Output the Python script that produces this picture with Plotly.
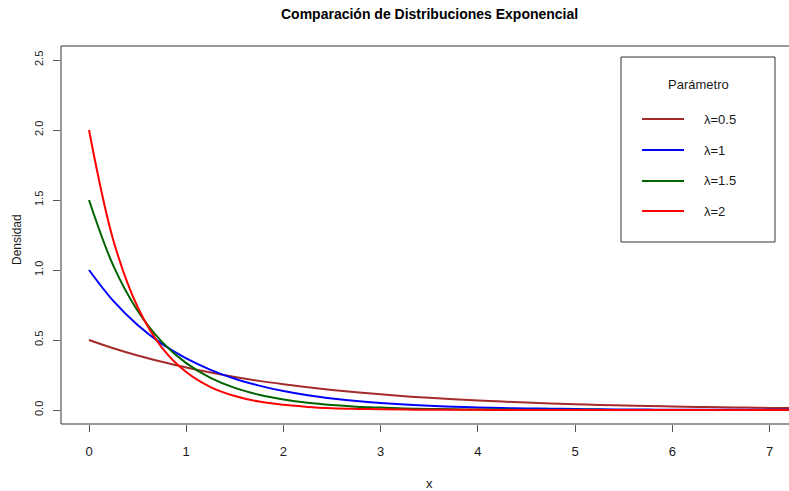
import plotly.graph_objects as go

# ---- data ----
x_vals = [0.00, 0.25, 0.50, 0.75, 1.00, 1.25, 1.50, 1.75, 2.00, 2.25, 2.50, 2.75,
          3.00, 3.25, 3.50, 3.75, 4.00, 4.25, 4.50, 4.75, 5.00, 5.25, 5.50, 5.75,
          6.00, 6.25, 6.50, 6.75, 7.00, 7.25]
dens_05 = [0.500, 0.441, 0.389, 0.344, 0.303, 0.268, 0.236, 0.208, 0.184, 0.162,
           0.143, 0.126, 0.112, 0.098, 0.087, 0.077, 0.068, 0.060, 0.053, 0.046,
           0.041, 0.036, 0.032, 0.028, 0.025, 0.022, 0.019, 0.017, 0.015, 0.013]
dens_1 = [1.000, 0.779, 0.607, 0.472, 0.368, 0.287, 0.223, 0.174, 0.135, 0.105,
          0.082, 0.064, 0.050, 0.039, 0.030, 0.024, 0.018, 0.014, 0.011, 0.009,
          0.007, 0.005, 0.004, 0.003, 0.002, 0.002, 0.002, 0.001, 0.001, 0.001]
dens_15 = [1.500, 1.031, 0.709, 0.487, 0.335, 0.230, 0.158, 0.109, 0.075, 0.051,
           0.035, 0.024, 0.017, 0.011, 0.008, 0.005, 0.004, 0.003, 0.002, 0.001,
           0.001, 0.001, 0.000, 0.000, 0.000, 0.000, 0.000, 0.000, 0.000, 0.000]
dens_2 = [2.000, 1.213, 0.736, 0.446, 0.271, 0.164, 0.100, 0.060, 0.037, 0.022,
          0.013, 0.008, 0.005, 0.003, 0.002, 0.001, 0.001, 0.000, 0.000, 0.000,
          0.000, 0.000, 0.000, 0.000, 0.000, 0.000, 0.000, 0.000, 0.000, 0.000]
series_names = ["λ=0.5", "λ=1", "λ=1.5", "λ=2"]
series_vals = [dens_05, dens_1, dens_15, dens_2]
series_colors = ["#A52A2A", "#0000FF", "#006400", "#FF0000"]
x_ticks = [0, 1, 2, 3, 4, 5, 6, 7]
y_ticks = [0.0, 0.5, 1.0, 1.5, 2.0, 2.5]
y_tick_text = ["0.0", "0.5", "1.0", "1.5", "2.0", "2.5"]

W, H = 789, 491
L, R, T, B = 61, 0, 46, 67
NARROW = "Liberation Sans Narrow, Liberation Sans, Arial, sans-serif"
REG = "Liberation Sans, Arial, sans-serif"
TXT = "#1a1a1a"


def px(xp):
    return (xp - L) / (W - L - R)


def py(yp):
    return (H - B - yp) / (H - T - B)


fig = go.Figure()
for name, vals, col in zip(series_names, series_vals, series_colors):
    fig.add_trace(go.Scatter(x=x_vals, y=vals, mode="lines", name=name,
                             line=dict(color=col, width=2, shape="spline", smoothing=1),
                             showlegend=False, hoverinfo="skip"))

shapes = [
    dict(type="line", xref="paper", yref="paper", x0=0, x1=0, y0=0, y1=1,
         line=dict(color="#333", width=1)),
    dict(type="line", xref="paper", yref="paper", x0=0, x1=1, y0=1, y1=1,
         line=dict(color="#333", width=1)),
    dict(type="line", xref="paper", yref="paper", x0=0, x1=1, y0=0, y1=0,
         line=dict(color="#333", width=1)),
    # legend box
    dict(type="rect", xref="paper", yref="paper", x0=px(621), x1=px(775),
         y0=py(242), y1=py(57), line=dict(color="#333", width=1), fillcolor="white"),
]
annotations = [
    dict(text="<b>Comparación de Distribuciones Exponencial</b>", xref="paper", yref="paper",
         x=px(429), y=py(14), xanchor="center", yanchor="middle", showarrow=False,
         font=dict(family=NARROW, size=14, color="black")),
    dict(text="Parámetro", xref="paper", yref="paper", x=px(698), y=py(85),
         xanchor="center", yanchor="middle", showarrow=False,
         font=dict(family=NARROW, size=13, color=TXT)),
    dict(text="x", xref="paper", yref="paper", x=px(429), y=py(484),
         xanchor="center", yanchor="middle", showarrow=False,
         font=dict(family=NARROW, size=13, color=TXT)),
    dict(text="Densidad", xref="paper", yref="paper", x=px(17), y=py(240),
         xanchor="center", yanchor="middle", showarrow=False, textangle=-90,
         font=dict(family=REG, size=12, color=TXT)),
]
leg_y = [119, 150, 181, 211]
for name, col, yy in zip(series_names, series_colors, leg_y):
    shapes.append(dict(type="line", xref="paper", yref="paper", x0=px(642), x1=px(684),
                       y0=py(yy), y1=py(yy), line=dict(color=col, width=2)))
    annotations.append(dict(text=name, xref="paper", yref="paper", x=px(702), y=py(yy),
                            xanchor="left", yanchor="middle", showarrow=False,
                            font=dict(family=NARROW, size=13, color=TXT)))

fig.update_layout(
    width=W, height=H, margin=dict(l=L, r=R, t=T, b=B),
    paper_bgcolor="white", plot_bgcolor="white",
    shapes=shapes, annotations=annotations, showlegend=False,
    xaxis=dict(range=[-0.288, 7.2], tickvals=x_ticks, ticks="outside", ticklen=7,
               tickcolor="#555", showgrid=False, zeroline=False, showline=False,
               tickfont=dict(family=NARROW, size=13, color=TXT), ticklabelstandoff=8),
    yaxis=dict(range=[-0.1, 2.6], tickvals=y_ticks, ticktext=y_tick_text, ticks="outside",
               ticklen=7, tickcolor="#555", showgrid=False, zeroline=False, showline=False,
               tickangle=-90, tickfont=dict(family=REG, size=11, color=TXT),
               ticklabelstandoff=6),
)
fig.write_html("out.html")
